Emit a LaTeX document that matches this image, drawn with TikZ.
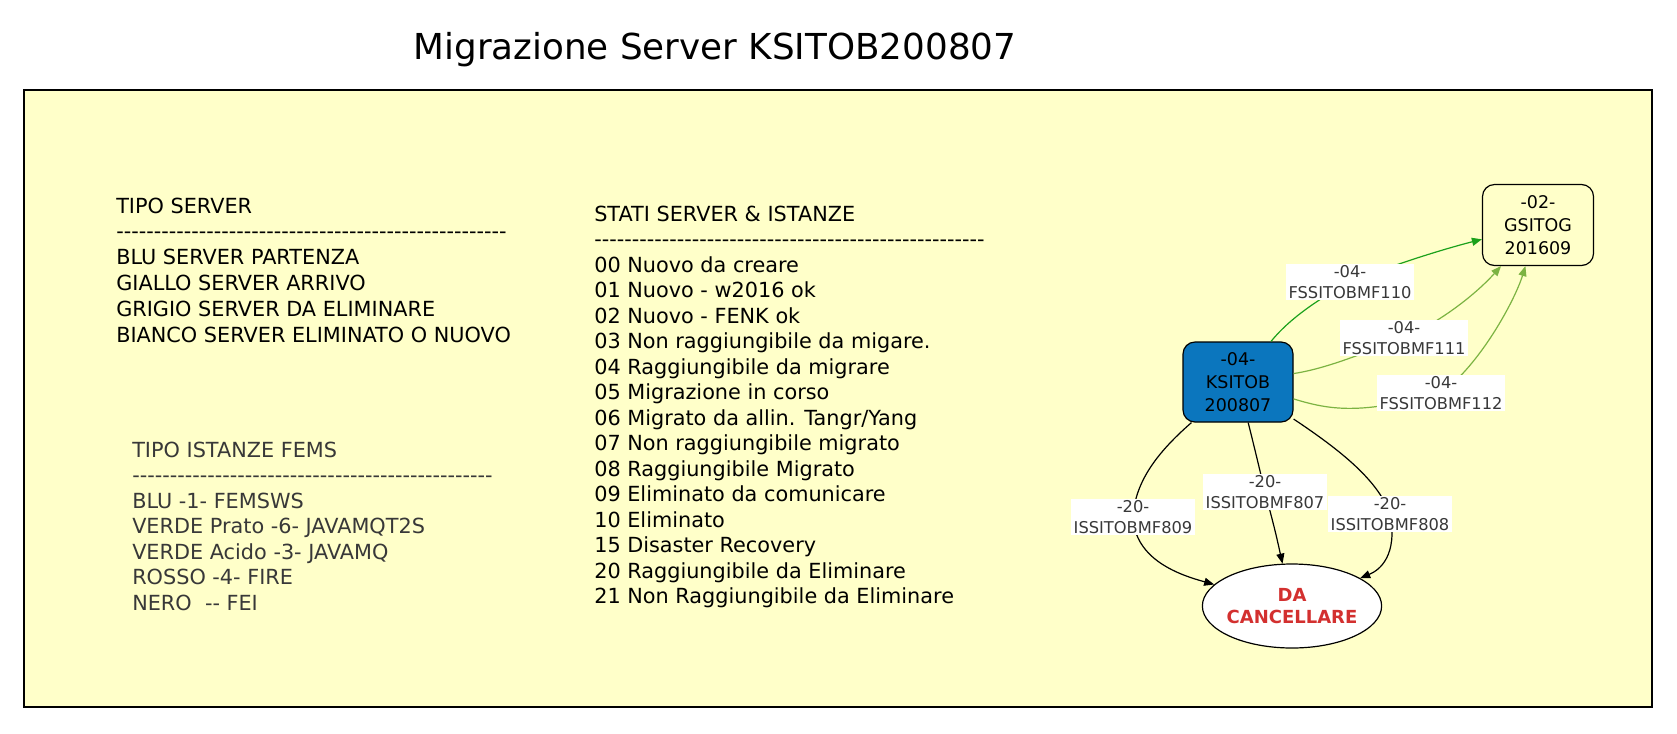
\documentclass[tikz,border=0pt]{standalone}
\usepackage{fontspec}
\setmainfont{DejaVu Sans}[Ligatures=TeXOff]
\usetikzlibrary{arrows.meta,shapes.geometric}
\definecolor{sfondo}{HTML}{FFFFC9}
\definecolor{blu}{HTML}{0B76BE}
\definecolor{verdescuro}{HTML}{1BA11B}
\definecolor{verdechiaro}{HTML}{7CB342}
\definecolor{rosso}{HTML}{D3302F}
\definecolor{grigiotesto}{HTML}{383838}

\begin{document}
\begin{tikzpicture}[x=0.75pt,y=-0.75pt,>={Triangle[length=7.5pt,width=6pt]},
  legenda/.style={anchor=base west,inner sep=0pt,font=\fontsize{15.6pt}{19pt}\selectfont},
  server/.style={draw,line width=0.9pt,rounded corners=9pt,align=center,
    minimum width=82.5pt,minimum height=60pt,font=\fontsize{13.1pt}{17.25pt}\selectfont},
  etichetta/.style={fill=white,text=grigiotesto,align=center,inner xsep=2pt,inner ysep=1pt,
    font=\fontsize{12.2pt}{15.75pt}\selectfont},
  arco/.style={->,line width=0.9pt}]
  \useasboundingbox (0,0) rectangle (1677,733);
  \node[anchor=base,font=\fontsize{26.8pt}{32pt}\selectfont] (titolo) at (715,59) {Migrazione Server KSITOB200807};
  \draw[line width=1.1pt,fill=sfondo] (24,90) rectangle (1652,707);

  \foreach \riga [count=\i] in {TIPO SERVER,
      ----------------------------------------------------,
      BLU SERVER PARTENZA,GIALLO SERVER ARRIVO,GRIGIO SERVER DA ELIMINARE,
      BIANCO SERVER ELIMINATO O NUOVO}
    \node[legenda] (tipo\i) at (116,{213+25.8*(\i-1)}) {\riga};

  \foreach \riga [count=\i] in {TIPO ISTANZE FEMS,
      ------------------------------------------------,
      BLU -1- FEMSWS,VERDE Prato -6- JAVAMQT2S,VERDE Acido -3- JAVAMQ,
      ROSSO -4- FIRE,NERO\ \ -- FEI}
    \node[legenda,text=grigiotesto] (fems\i) at (132,{457+25.5*(\i-1)}) {\riga};

  \foreach \riga [count=\i] in {STATI SERVER \& ISTANZE,
      ----------------------------------------------------,
      00 Nuovo da creare,01 Nuovo - w2016 ok,02 Nuovo - FENK ok,
      03 Non raggiungibile da migare.,04 Raggiungibile da migrare,
      05 Migrazione in corso,06 Migrato da allin. Tangr/Yang,
      07 Non raggiungibile migrato,08 Raggiungibile Migrato,
      09 Eliminato da comunicare,10 Eliminato,15 Disaster Recovery,
      20 Raggiungibile da Eliminare,21 Non Raggiungibile da Eliminare}
    \node[legenda] (stati\i) at (594,{221+25.5*(\i-1)}) {\riga};

  \node[server,fill=blu] (ksitob) at (1238,382) {-04-\\KSITOB\\200807};
  \node[server,minimum width=83.25pt,minimum height=60.75pt] (gsitog) at (1538,225) {-02-\\GSITOG\\201609};
  \node[ellipse,draw,line width=0.9pt,fill=white,inner xsep=-1.5pt,inner ysep=0pt,
    minimum width=132.75pt,minimum height=63pt,
    text=rosso,align=center,font=\bfseries\fontsize{13.5pt}{17pt}\selectfont] (cancellare) at (1292,606) {DA\\CANCELLARE};

  \draw[arco,verdescuro] (ksitob) .. controls (1290,318) and (1320,298) .. (1350,282)
    .. controls (1390,266) and (1440,250) .. (gsitog);
  \draw[arco,verdechiaro] (ksitob) .. controls (1330,368) and (1370,350) .. (1404,338)
    .. controls (1440,322) and (1475,295) .. (gsitog);
  \draw[arco,verdechiaro] (ksitob) .. controls (1330,410) and (1360,415) .. (1441,393)
    .. controls (1480,365) and (1515,300) .. (gsitog);
  \draw[arco] (ksitob) .. controls (1160,450) and (1135,480) .. (1133,517)
    .. controls (1135,560) and (1180,575) .. (cancellare);
  \draw[arco] (ksitob) .. controls (1255,450) .. (1265,492)
    .. controls (1275,530) .. (cancellare);
  \draw[arco] (ksitob) .. controls (1340,450) and (1378,480) .. (1390,514)
    .. controls (1398,555) and (1380,570) .. (cancellare);

  \node[etichetta] (e110) at (1350,282) {-04-\\FSSITOBMF110};
  \node[etichetta] (e111) at (1404,338) {-04-\\FSSITOBMF111};
  \node[etichetta] (e112) at (1441,393) {-04-\\FSSITOBMF112};
  \node[etichetta] (e809) at (1133,517) {-20-\\ISSITOBMF809};
  \node[etichetta] (e807) at (1265,492) {-20-\\ISSITOBMF807};
  \node[etichetta] (e808) at (1390,514) {-20-\\ISSITOBMF808};
\end{tikzpicture}
\end{document}
